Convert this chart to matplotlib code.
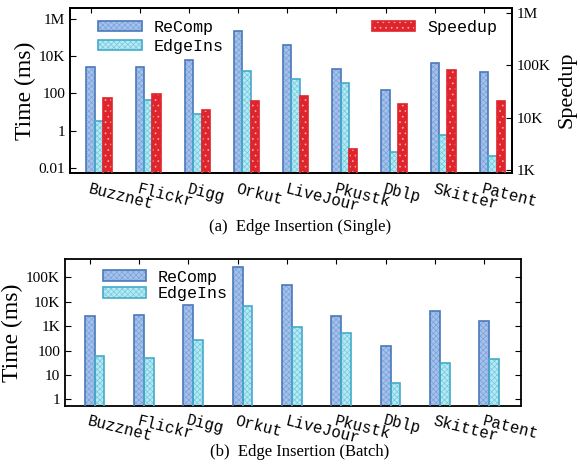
import matplotlib
matplotlib.use("Agg")
import matplotlib.pyplot as plt
import numpy as np
from matplotlib.patches import Patch
from matplotlib.legend_handler import HandlerTuple

categories = ["Buzznet", "Flickr", "Digg", "Orkut", "LiveJour", "Pkustk", "Dblp", "Skitter", "Patent"]

# (a) Edge insertion (single)
single_recomp = [2500, 2750, 6300, 230000, 41000, 2080, 157, 4100, 1500]
single_edgeins = [3.3, 42, 8.3, 1700, 610, 370, 0.07, 0.58, 0.044]
single_speedup = [24000, 29000, 13800, 21000, 26500, 2500, 18500, 80000, 20700]

# (b) Edge insertion (batch)
batch_recomp = [2700, 2950, 7100, 257000, 47000, 2500, 157, 4300, 1620]
batch_edgeins = [59, 52, 277, 6500, 920, 520, 4.7, 30, 44]

left_ticks_a = [0.01, 1, 100, 1e4, 1e6]
left_ticklabels_a = ["0.01", "1", "100", "10K", "1M"]
right_ticks_a = [1e3, 1e4, 1e5, 1e6]
right_ticklabels_a = ["1K", "10K", "100K", "1M"]
left_ticks_b = [1, 10, 100, 1e3, 1e4, 1e5]
left_ticklabels_b = ["1", "10", "100", "1K", "10K", "100K"]

SERIF = "Liberation Serif"
MONO = "Liberation Mono"

styles = {
    "ReComp": dict(face="#a6c2ea", hatch_c="#7aa2dc", edge="#4a78bb", hatch="xxxxxx"),
    "EdgeIns": dict(face="#b8e8f2", hatch_c="#6fcbe0", edge="#45aacb", hatch="xxxxxx"),
    "Speedup": dict(face="#e0242c", hatch_c="#f7b0b0", edge="#e0242c", hatch="..."),
}

plt.rcParams["hatch.linewidth"] = 0.5


def draw_bars(ax, x, vals, w, name):
    s = styles[name]
    ax.bar(x, vals, w, color=s["face"], edgecolor=s["hatch_c"], hatch=s["hatch"], linewidth=0, zorder=2)
    ax.bar(x, vals, w, fill=False, edgecolor=s["edge"], linewidth=1.2, zorder=3)


def handle(name):
    s = styles[name]
    return (Patch(facecolor=s["face"], edgecolor=s["hatch_c"], hatch=s["hatch"], linewidth=0),
            Patch(fill=False, edgecolor=s["edge"], linewidth=1.2))


HM = {tuple: HandlerTuple(ndivide=1, pad=0)}
XFS = 11.3

fig = plt.figure(figsize=(5.8, 4.65), dpi=100)

# ---------- (a) ----------
ax1 = fig.add_axes([70/580, 1-173/465, (512-70)/580, (173-8)/465])
x = np.arange(len(categories))
w = 0.17
draw_bars(ax1, x, single_recomp, w, "ReComp")
draw_bars(ax1, x + w, single_edgeins, w, "EdgeIns")
ax1.set_yscale("log")
ax1.set_ylim(10**-2.27, 10**6.59)
ax1.set_xlim(-0.42, 8.57)
ax1.set_yticks(left_ticks_a)
ax1.set_yticklabels(left_ticklabels_a, fontfamily=SERIF, fontsize=11)
ax1.minorticks_off()
ax1.set_xticks(x)
ax1.set_xticklabels(categories, rotation=-14, ha="left", va="top", rotation_mode="anchor",
                    fontfamily=MONO, fontsize=XFS)
ax1.tick_params(axis="x", which="both", direction="in", top=True, pad=6)
ax1.tick_params(axis="y", which="both", direction="in", length=4)
for sp in ax1.spines.values():
    sp.set_linewidth(1.3)
ax1.set_ylabel("Time (ms)", fontfamily=SERIF, fontsize=17, labelpad=2)

ax1r = ax1.twinx()
draw_bars(ax1r, x + 2*w, single_speedup, w, "Speedup")
ax1r.set_yscale("log")
ax1r.set_ylim(10**2.94, 10**6.1)
ax1r.set_yticks(right_ticks_a)
ax1r.set_yticklabels(right_ticklabels_a, fontfamily=SERIF, fontsize=11)
ax1r.minorticks_off()
ax1r.tick_params(axis="y", which="both", direction="in", length=4)
for sp in ax1r.spines.values():
    sp.set_linewidth(1.3)
fig.text(567/580, 1-90/465, "Speedup", rotation=90, ha="center", va="center",
         fontfamily=SERIF, fontsize=16)

ax1.legend([handle("ReComp"), handle("EdgeIns")], ["ReComp", "EdgeIns"],
           handler_map=HM, loc="upper left", bbox_to_anchor=(0.03, 1.02), frameon=False,
           prop={"family": MONO, "size": 12}, handlelength=2.6, handleheight=0.6,
           labelspacing=0.25, handletextpad=0.7)
ax1r.legend([handle("Speedup")], ["Speedup"],
            handler_map=HM, loc="upper right", bbox_to_anchor=(1.0, 1.02), frameon=False,
            prop={"family": MONO, "size": 12}, handlelength=2.6, handleheight=0.6,
            handletextpad=0.7)

fig.text(300/580, 1-227/465, "(a)  Edge Insertion (Single)", ha="center", va="center",
         fontfamily=SERIF, fontsize=12)

# ---------- (b) ----------
ax2 = fig.add_axes([65/580, 1-406/465, (520.7-65)/580, (406-259)/465])
wb = 0.2
draw_bars(ax2, x, batch_recomp, wb, "ReComp")
draw_bars(ax2, x + wb, batch_edgeins, wb, "EdgeIns")
ax2.set_yscale("log")
ax2.set_ylim(10**-0.27, 10**5.75)
ax2.set_xlim(-0.5, 8.74)
ax2.set_yticks(left_ticks_b)
ax2.set_yticklabels(left_ticklabels_b, fontfamily=SERIF, fontsize=11)
ax2.minorticks_off()
ax2.set_xticks(x)
ax2.set_xticklabels(categories, rotation=-14, ha="left", va="top", rotation_mode="anchor",
                    fontfamily=MONO, fontsize=XFS)
ax2.tick_params(axis="x", which="both", direction="in", top=True, pad=5)
ax2.tick_params(axis="y", which="both", direction="in", right=True, length=4)
for sp in ax2.spines.values():
    sp.set_linewidth(1.3)
ax2.set_ylabel("Time (ms)", fontfamily=SERIF, fontsize=17, labelpad=2)
ax2.legend([handle("ReComp"), handle("EdgeIns")], ["ReComp", "EdgeIns"],
           handler_map=HM, loc="upper left", bbox_to_anchor=(0.05, 1.03), frameon=False,
           prop={"family": MONO, "size": 12}, handlelength=2.6, handleheight=0.6,
           labelspacing=0.1, handletextpad=0.7)

fig.text(300/580, 1-452/465, "(b)  Edge Insertion (Batch)", ha="center", va="center",
         fontfamily=SERIF, fontsize=12)

fig.savefig("out.png", dpi=100)
